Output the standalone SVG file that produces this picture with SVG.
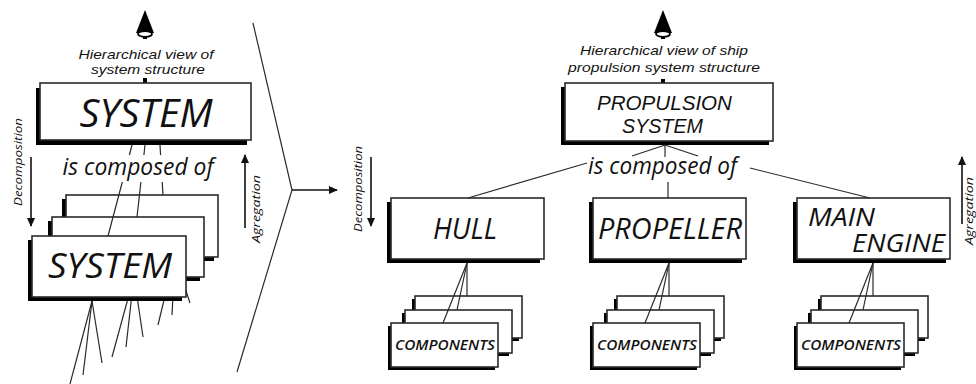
<svg xmlns="http://www.w3.org/2000/svg" width="976" height="384" viewBox="0 0 976 384">
<style>
text{font-family:"Open Sans","Liberation Sans",sans-serif;font-style:italic;fill:#111}
text.tight{font-family:"Liberation Sans",Arial,sans-serif}
.box{fill:#fff;stroke:#2a2a2a;stroke-width:1.6}
.sh{fill:#000}
.ln{stroke:#2a2a2a;stroke-width:1.2;fill:none}
.ar{stroke:#111;stroke-width:1.6;fill:none}
.lab{font-size:11.5px}
.cmp{font-size:14px;font-weight:600}
</style>
<defs>
<marker id="ah" viewBox="0 0 10 10" refX="9" refY="5" markerWidth="9" markerHeight="9" markerUnits="userSpaceOnUse" orient="auto">
<path d="M0,0.5 L10,5 L0,9.5 Z" fill="#111"/>
</marker>
<g id="eye">
<path d="M0,0 L-9,23 L9,23 Z" fill="#000"/>
<ellipse cx="0" cy="24" rx="7" ry="2.8" fill="#fff" stroke="#000" stroke-width="1.8"/>
<rect x="-2" y="26" width="4" height="3" fill="#000"/>
</g>
<g id="cstack">
<rect class="sh" x="412" y="299" width="107" height="42"/>
<rect class="box" x="415" y="296" width="107" height="42"/>
<rect class="sh" x="402" y="313" width="107" height="43"/>
<rect class="box" x="405" y="310" width="107" height="43"/>
<rect class="sh" x="388" y="326" width="107" height="44"/>
<rect class="box" x="391" y="323" width="107" height="44"/>
<text class="cmp" x="445" y="350" text-anchor="middle" textLength="100" lengthAdjust="spacingAndGlyphs">COMPONENTS</text>
</g>
</defs>

<g id="view-arrow-left"><use href="#eye" x="145" y="10"/><rect x="143" y="78" width="4" height="6" fill="#000"/></g>
<g id="label-view-left">
<text class="tight" x="146" y="59" font-size="13" text-anchor="middle" textLength="135" lengthAdjust="spacingAndGlyphs">Hierarchical view of</text>
<text class="tight" x="148" y="74" font-size="13" text-anchor="middle" textLength="114" lengthAdjust="spacingAndGlyphs">system structure</text>
</g>

<g id="system-top">
<rect class="sh" x="36" y="88" width="211" height="57"/>
<rect class="box" x="40" y="83" width="211" height="57"/>
<text x="146" y="127" font-size="38" text-anchor="middle" textLength="133" lengthAdjust="spacingAndGlyphs">SYSTEM</text>
</g>

<g id="label-composed-left"><text x="138" y="175" font-size="24" text-anchor="middle" textLength="151" lengthAdjust="spacingAndGlyphs">is composed of</text></g>

<g id="system-stack">
<rect class="sh" x="62" y="199" width="152" height="62"/>
<rect class="box" x="66" y="195" width="152" height="62"/>
<rect class="sh" x="48" y="221" width="152" height="60"/>
<rect class="box" x="52" y="217" width="152" height="60"/>
<rect class="sh" x="28" y="240" width="154" height="61"/>
<rect class="box" x="32" y="236" width="154" height="61"/>
<text x="110" y="278" font-size="34" text-anchor="middle" textLength="124" lengthAdjust="spacingAndGlyphs">SYSTEM</text>
</g>

<g id="label-decomposition-left"><text class="lab" transform="translate(22,162) rotate(-90)" text-anchor="middle" textLength="88" lengthAdjust="spacingAndGlyphs">Decomposition</text></g>
<g id="label-agregation-left"><text class="lab" transform="translate(260,209) rotate(-90)" text-anchor="middle" textLength="68" lengthAdjust="spacingAndGlyphs">Agregation</text></g>

<g id="view-arrow-right"><use href="#eye" x="663" y="10"/><rect x="661" y="79" width="4" height="5" fill="#000"/></g>
<g id="label-view-right">
<text class="tight" x="664" y="55" font-size="13.5" text-anchor="middle" textLength="168" lengthAdjust="spacingAndGlyphs">Hierarchical view of ship</text>
<text class="tight" x="664" y="72" font-size="13.5" text-anchor="middle" textLength="192" lengthAdjust="spacingAndGlyphs">propulsion system structure</text>
</g>

<g id="propulsion-system">
<rect class="sh" x="561" y="87" width="208" height="58"/>
<rect class="box" x="565" y="83" width="208" height="58"/>
<text class="tight" x="664.5" y="110" font-size="20" text-anchor="middle" textLength="135" lengthAdjust="spacingAndGlyphs">PROPULSION</text>
<text class="tight" x="662.5" y="133" font-size="20" text-anchor="middle" textLength="81" lengthAdjust="spacingAndGlyphs">SYSTEM</text>
</g>

<g id="label-composed-right"><text x="662.5" y="174" font-size="24" text-anchor="middle" textLength="149" lengthAdjust="spacingAndGlyphs">is composed of</text></g>

<g id="label-decomposition-right"><text class="lab" transform="translate(362,189) rotate(-90)" text-anchor="middle" textLength="86" lengthAdjust="spacingAndGlyphs">Decomposition</text></g>
<g id="label-agregation-right"><text class="lab" transform="translate(973,211) rotate(-90)" text-anchor="middle" textLength="68" lengthAdjust="spacingAndGlyphs">Agregation</text></g>

<g id="hull">
<rect class="sh" x="387" y="202" width="153" height="61"/>
<rect class="box" x="391" y="198" width="153" height="61"/>
<text x="465" y="239" font-size="30" text-anchor="middle" textLength="64" lengthAdjust="spacingAndGlyphs">HULL</text>
</g>
<g id="propeller">
<rect class="sh" x="589" y="202" width="153" height="61"/>
<rect class="box" x="593" y="198" width="153" height="61"/>
<text x="670" y="239" font-size="30" text-anchor="middle" textLength="144" lengthAdjust="spacingAndGlyphs">PROPELLER</text>
</g>
<g id="main-engine">
<rect class="sh" x="793" y="202" width="153" height="61"/>
<rect class="box" x="797" y="198" width="153" height="61"/>
<text x="808" y="226" font-size="26" textLength="67" lengthAdjust="spacingAndGlyphs">MAIN</text>
<text x="945" y="252" font-size="26" text-anchor="end" textLength="93" lengthAdjust="spacingAndGlyphs">ENGINE</text>
</g>

<g id="hull-components"><use href="#cstack"/></g>
<g id="propeller-components"><use href="#cstack" x="202"/></g>
<g id="engine-components"><use href="#cstack" x="406"/></g>

<g id="connectors">
<line class="ln" x1="132" y1="145" x2="129.4" y2="155"/>
<line class="ln" x1="145" y1="145" x2="143.9" y2="155"/>
<line class="ln" x1="160" y1="145" x2="160.6" y2="155"/>
<line class="ln" x1="122.3" y1="182" x2="108" y2="236"/>
<line class="ln" x1="140.9" y1="182" x2="137" y2="217"/>
<line class="ln" x1="162.2" y1="182" x2="163" y2="195"/>
<line class="ln" x1="92" y1="301" x2="70" y2="384"/>
<line class="ln" x1="92" y1="301" x2="83" y2="375"/>
<line class="ln" x1="92" y1="301" x2="102" y2="363"/>
<line class="ln" x1="127.3" y1="301" x2="112" y2="357"/>
<line class="ln" x1="131.2" y1="301" x2="126" y2="347"/>
<line class="ln" x1="137.7" y1="301" x2="143" y2="337"/>
<line class="ln" x1="163.8" y1="301" x2="158" y2="325"/>
<line class="ln" x1="172.7" y1="301" x2="172" y2="315"/>
<line class="ln" x1="185.7" y1="290" x2="190" y2="303"/>
<polyline class="ln" points="253,23 292,190 237,372"/>
<line class="ar" x1="292" y1="190" x2="337" y2="190" marker-end="url(#ah)"/>
<line class="ar" x1="31" y1="157" x2="31" y2="226" marker-end="url(#ah)"/>
<line class="ar" x1="245" y1="228" x2="245" y2="155" marker-end="url(#ah)"/>
<line class="ar" x1="371" y1="157" x2="371" y2="226" marker-end="url(#ah)"/>
<line class="ar" x1="962" y1="224" x2="962" y2="157" marker-end="url(#ah)"/>
<line class="ln" x1="665" y1="145" x2="632" y2="156"/>
<line class="ln" x1="665" y1="145" x2="665" y2="157"/>
<line class="ln" x1="665" y1="145" x2="698" y2="156"/>
<line class="ln" x1="587" y1="163" x2="468" y2="198"/>
<line class="ln" x1="668" y1="182" x2="668" y2="198"/>
<line class="ln" x1="750" y1="168" x2="870" y2="198"/>
<g id="clinks">
<line class="ln" x1="467" y1="263" x2="443" y2="323"/>
<line class="ln" x1="467" y1="263" x2="457" y2="310"/>
<line class="ln" x1="467" y1="263" x2="467" y2="296"/>
</g>
<use href="#clinks" x="202"/>
<use href="#clinks" x="406"/>
</g>
</svg>
